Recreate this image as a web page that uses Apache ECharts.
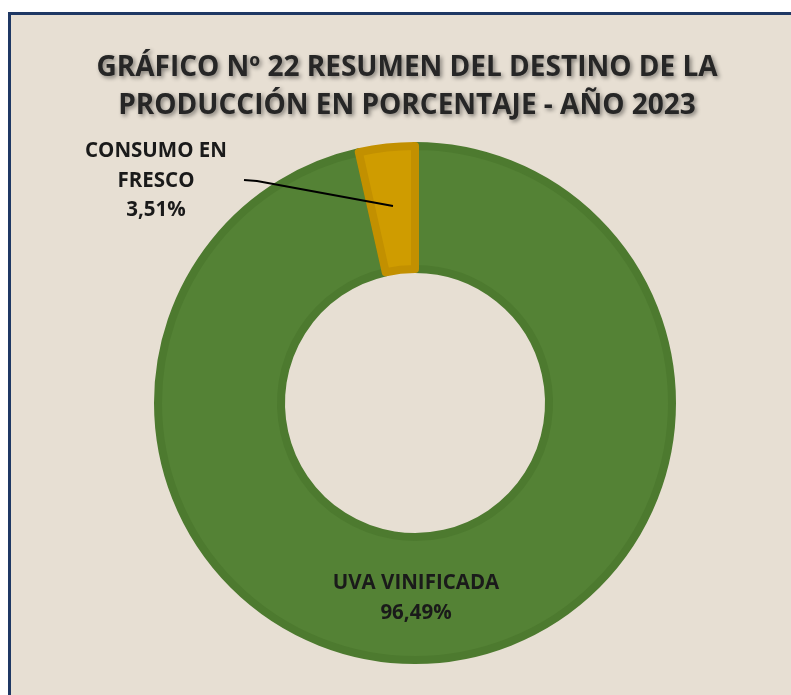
<!DOCTYPE html>
<html>
<head>
<meta charset="utf-8">
<script src="https://cdn.jsdelivr.net/npm/echarts@6/dist/echarts.min.js"></script>
<style>
  html, body { margin: 0; padding: 0; background: #ffffff; overflow: hidden; }
  #frame {
    position: absolute; left: 8px; top: 12px; width: 783px; height: 683px;
    border-left: 3px solid #1f3864; border-top: 3px solid #1f3864;
  }
  #chart { position: absolute; left: 11px; top: 15px; width: 780px; height: 680px; }
</style>
</head>
<body>
<div id="frame"></div>
<div id="chart"></div>
<script>
const titleLines = ['GRÁFICO Nº 22 RESUMEN DEL DESTINO DE LA', 'PRODUCCIÓN EN PORCENTAJE - AÑO 2023'];
const categories = ['UVA VINIFICADA', 'CONSUMO EN\nFRESCO'];
const values = [96.49, 3.51];
const fillColors = ['#548235', '#cf9c00'];
const edgeColors = ['#4d7a2f', '#c29000'];

const fmtPct = v => v.toFixed(2).replace('.', ',') + '%';

const chart = echarts.init(document.getElementById('chart'), null, {renderer: 'canvas'});

const pieCenter = [404, 388];
const pieRadius = [134, 257];

chart.setOption({
  backgroundColor: '#e7dfd3',
  animation: false,
  title: {
    text: titleLines.join('\n'),
    left: 396,
    top: 34,
    padding: 0,
    textAlign: 'center',
    textStyle: {
      fontFamily: 'Open Sans',
      fontWeight: 'bold',
      fontSize: 28,
      lineHeight: 38,
      color: '#262626',
      textShadowColor: 'rgba(0,0,0,0.45)',
      textShadowBlur: 4,
      textShadowOffsetX: 2,
      textShadowOffsetY: 2
    }
  },
  series: [{
    // ring
    type: 'pie',
    center: pieCenter,
    radius: pieRadius,
    startAngle: 90,
    clockwise: true,
    z: 2,
    silent: true,
    label: {show: false},
    labelLine: {show: false},
    data: categories.map((name, i) => ({
      name: name,
      value: values[i],
      itemStyle: {color: fillColors[i], borderColor: edgeColors[i], borderWidth: 8}
    }))
  }, {
    // labels and leader line on top of the ring
    type: 'pie',
    center: pieCenter,
    radius: pieRadius,
    startAngle: 90,
    clockwise: true,
    z: 5,
    silent: true,
    itemStyle: {color: 'rgba(0,0,0,0)'},
    label: {
      fontFamily: 'Open Sans',
      fontWeight: 'bold',
      fontSize: 20.5,
      lineHeight: 29.5,
      color: '#1a1a1a',
      align: 'center',
      formatter: p => p.name + '\n' + fmtPct(p.value)
    },
    labelLine: {show: false},
    labelLayout: function (params) {
      if (params.dataIndex === 1) {
        return {
          x: 145, y: 166, align: 'center', verticalAlign: 'middle',
          labelLinePoints: [[233, 165], [246, 166], [382, 191]]
        };
      }
      return {x: 405, y: 583, align: 'center', verticalAlign: 'middle'};
    },
    data: categories.map((name, i) => ({
      name: name,
      value: values[i],
      label: {position: i === 0 ? 'inside' : 'outside'},
      labelLine: i === 1
        ? {show: true, length: 20, length2: 10, lineStyle: {color: '#000', width: 2}}
        : {show: false}
    }))
  }]
});
</script>
</body>
</html>
